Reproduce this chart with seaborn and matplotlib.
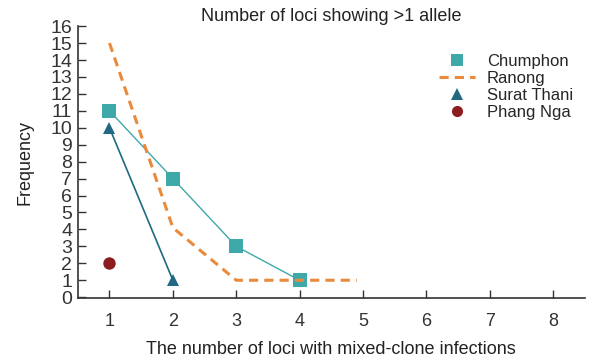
import matplotlib
matplotlib.use("Agg")
import matplotlib.pyplot as plt
import seaborn as sns
from matplotlib.lines import Line2D

# values
chumphon_x = [1, 2, 3, 4]
chumphon_y = [11, 7, 3, 1]
ranong_x = [1, 2, 3, 4, 4.9]
ranong_y = [15, 4.1, 1, 1, 1]
surat_x = [1, 2]
surat_y = [10, 1]
phang_x = [1]
phang_y = [2]
x_ticks = [1, 2, 3, 4, 5, 6, 7, 8]
y_ticks = list(range(0, 17))
labels = ['Chumphon', 'Ranong', 'Surat Thani', 'Phang Nga']

teal = '#3fa8a8'
orange = '#e98a3c'
dark_teal = '#1f6a82'
dark_red = '#8c1c1e'

sns.set_style("ticks")
plt.rcParams['font.family'] = ['Liberation Sans', 'DejaVu Sans']

fig = plt.figure(figsize=(6.03, 3.63), dpi=100)
ax = fig.add_axes([0.129, 0.179, 0.841, 0.749])

sns.lineplot(x=chumphon_x, y=chumphon_y, ax=ax, color=teal, linewidth=1.0,
             marker='s', markersize=10, markeredgewidth=0)
sns.lineplot(x=ranong_x, y=ranong_y, ax=ax, color=orange, linewidth=2.2)
ax.lines[-1].set_dashes((3, 2))
sns.lineplot(x=surat_x, y=surat_y, ax=ax, color=dark_teal, linewidth=1.2,
             marker='^', markersize=9, markeredgewidth=0)
sns.scatterplot(x=phang_x, y=phang_y, ax=ax, color=dark_red, s=80, linewidth=0)

handles = [
    Line2D([], [], color=teal, marker='s', linestyle='none', markersize=9, markeredgewidth=0),
    Line2D([], [], color=orange, linestyle=(0, (3, 2)), linewidth=2.2),
    Line2D([], [], color=dark_teal, marker='^', linestyle='none', markersize=8, markeredgewidth=0),
    Line2D([], [], color=dark_red, marker='o', linestyle='none', markersize=8, markeredgewidth=0),
]
ax.legend(handles, labels, loc='upper left', bbox_to_anchor=(0.695, 0.93),
          frameon=False, fontsize=12, handlelength=2.2, labelspacing=0.12,
          handletextpad=0.7, borderpad=0)

ax.set_xlim(0.5, 8.5)
ax.set_ylim(-0.05, 16)
ax.set_xticks(x_ticks)
ax.set_yticks(y_ticks)
ax.tick_params(axis='both', direction='in', length=6, width=1, colors='#333333',
               labelsize=13)
ax.tick_params(axis='x', pad=11)
ax.tick_params(axis='y', pad=4, labelsize=14)
sns.despine(ax=ax)
for s in ['left', 'bottom']:
    ax.spines[s].set_color('#333333')
    ax.spines[s].set_linewidth(1.2)

ax.set_title('Number of loci showing >1 allele', fontsize=13, pad=4, color='#222222')
ax.set_xlabel('The number of loci with mixed-clone infections', fontsize=13, labelpad=8, color='#222222')
ax.set_ylabel('Frequency', fontsize=13, labelpad=12, color='#222222')

fig.savefig('out.png', dpi=100)
